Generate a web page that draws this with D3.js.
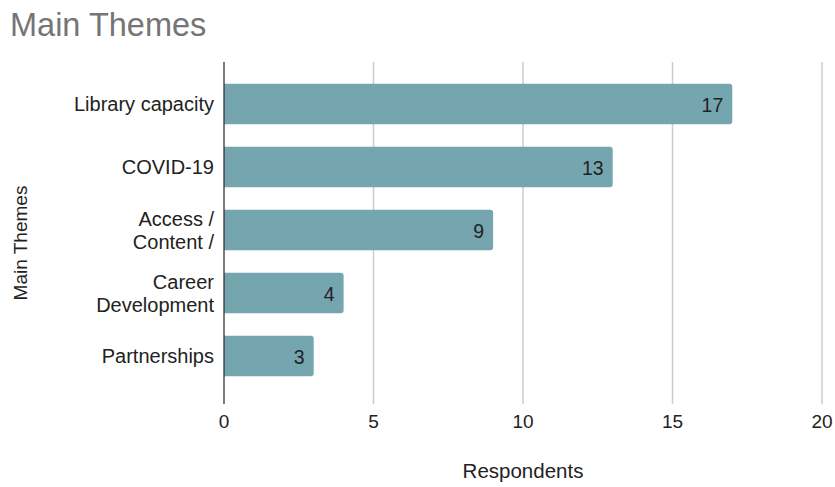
<!DOCTYPE html>
<html><head><meta charset="utf-8">
<script src="https://cdn.jsdelivr.net/npm/d3@7"></script>
<style>body{margin:0;background:#fff}svg{display:block}text{font-family:"Liberation Sans",Arial,sans-serif}</style>
</head><body>
<svg id="c" width="835" height="487"></svg>
<script>
const categories = [["Library capacity"],["COVID-19"],["Access /","Content /"],["Career","Development"],["Partnerships"]];
const values = [17, 13, 9, 4, 3];
const xTicks = [0, 5, 10, 15, 20];
const title = "Main Themes";
const xTitle = "Respondents";
const yTitle = "Main Themes";

const svg = d3.select("#c");
const x = d3.scaleLinear().domain([0, 20]).range([224, 822]);
const y = d3.scaleBand().domain(d3.range(categories.length)).range([72.5, 387.5]).paddingInner(0.36).paddingOuter(0.18);

svg.append("text").attr("x", 10).attr("y", 36).attr("font-size", 32.5).attr("fill", "#757575").text(title);

// gridlines
svg.append("g").selectAll("line").data(xTicks.slice(1)).join("line")
  .attr("x1", d => x(d)).attr("x2", d => x(d)).attr("y1", 62).attr("y2", 404)
  .attr("stroke", "#cccccc").attr("stroke-width", 1.5);

// bars
const bw = y.bandwidth();
svg.append("g").selectAll("path").data(values).join("path")
  .attr("fill", "#75a5af")
  .attr("d", (d, i) => {
    const x0 = x(0), x1 = x(d), y0 = y(i), r = 3;
    return `M${x0},${y0}H${x1 - r}Q${x1},${y0} ${x1},${y0 + r}V${y0 + bw - r}Q${x1},${y0 + bw} ${x1 - r},${y0 + bw}H${x0}Z`;
  });

// value labels
svg.append("g").selectAll("text").data(values).join("text")
  .attr("x", d => x(d) - 9).attr("y", (d, i) => y(i) + bw / 2 + 7.5)
  .attr("text-anchor", "end").attr("font-size", 19.5).attr("fill", "#222").text(d => d);

// axis line
svg.append("line").attr("x1", x(0)).attr("x2", x(0)).attr("y1", 62).attr("y2", 404)
  .attr("stroke", "#333").attr("stroke-width", 1.3);

// x tick labels
svg.append("g").selectAll("text").data(xTicks).join("text")
  .attr("x", d => x(d)).attr("y", 428).attr("text-anchor", "middle")
  .attr("font-size", 19).attr("fill", "#222").text(d => d);

// y labels
const yl = svg.append("g").selectAll("text").data(categories).join("text")
  .attr("text-anchor", "end").attr("font-size", 20).attr("fill", "#222");
yl.each(function(lines, i) {
  const t = d3.select(this);
  const cy = y(i) + bw / 2;
  const n = lines.length;
  lines.forEach((l, j) => {
    t.append("tspan").attr("x", 214).attr("y", cy + 7 + (j - (n - 1) / 2) * 23).text(l);
  });
});

svg.append("text").attr("x", 523).attr("y", 478).attr("text-anchor", "middle")
  .attr("font-size", 20.5).attr("fill", "#222").text(xTitle);
svg.append("text").attr("transform", "translate(27,243) rotate(-90)").attr("text-anchor", "middle")
  .attr("font-size", 19).attr("fill", "#222").text(yTitle);
</script>
</body></html>
